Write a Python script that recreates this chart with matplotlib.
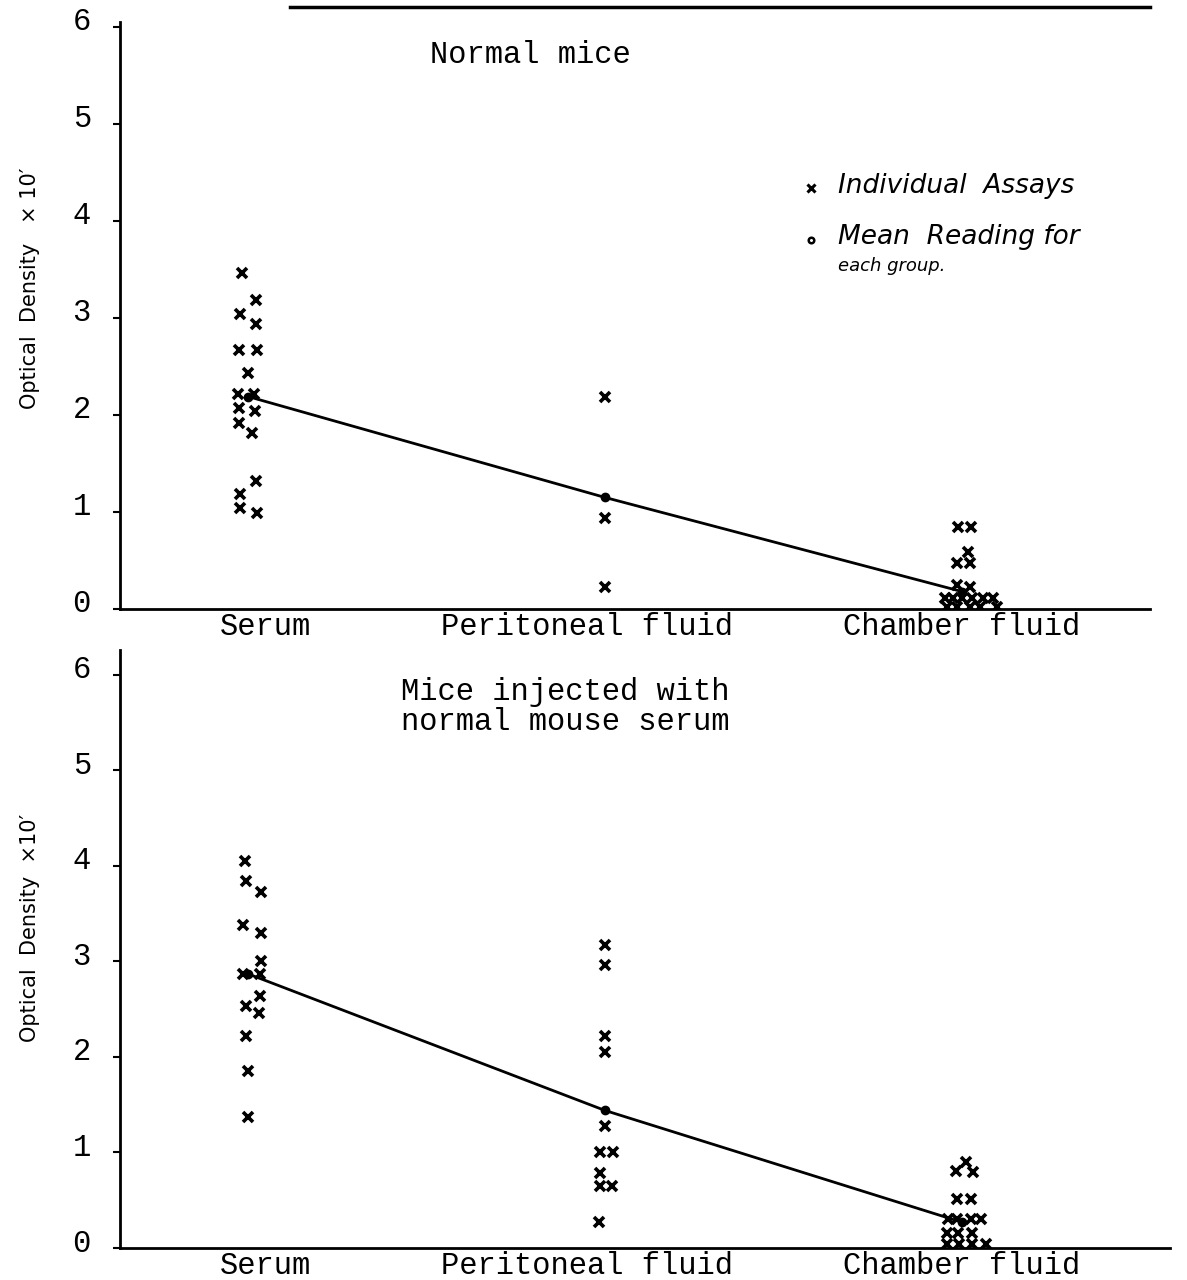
import numpy as np
import matplotlib.pyplot as plt
import matplotlib.transforms as mtransforms
from matplotlib.lines import Line2D

# categories on the x axis
categories = ["Serum", "Peritoneal fluid", "Chamber fluid"]

# --- Normal mice (optical density x10) ---
top_serum = [3.46, 3.18, 3.04, 2.94, 2.67, 2.67, 2.43, 2.22, 2.22, 2.07, 2.04,
             1.92, 1.81, 1.32, 1.19, 1.04, 0.99]
top_serum_dx = [-0.017, 0.022, -0.022, 0.022, -0.025, 0.025, 0.0, -0.028, 0.017,
                -0.025, 0.020, -0.025, 0.011, 0.022, -0.022, -0.022, 0.025]
top_perit = [2.18, 0.94, 0.23]
top_perit_dx = [0.0, 0.0, 0.0]
top_chamber = [0.85, 0.85, 0.59, 0.47, 0.47, 0.25, 0.23, 0.11, 0.11, 0.11, 0.11,
               0.11, 0.11, 0.02, 0.02, 0.02, 0.02, 0.02]
top_chamber_dx = [-0.011, 0.025, 0.017, -0.014, 0.022, -0.014, 0.022, -0.048, -0.025,
                  0.0, 0.028, 0.059, 0.087, -0.042, -0.014, 0.022, 0.050, 0.098]
top_means = [2.19, 1.15, 0.18]

# --- Mice injected with normal mouse serum ---
bot_serum = [4.05, 3.84, 3.73, 3.38, 3.30, 3.00, 2.87, 2.87, 2.64, 2.53, 2.46,
             2.22, 1.85, 1.37]
bot_serum_dx = [-0.008, -0.006, 0.036, -0.014, 0.036, 0.036, -0.014, 0.034, 0.034,
                -0.006, 0.031, -0.006, 0.0, 0.0]
bot_perit = [3.17, 2.96, 2.22, 2.05, 1.28, 1.00, 1.00, 0.78, 0.65, 0.65, 0.27]
bot_perit_dx = [0.0, 0.0, 0.0, 0.0, 0.0, -0.014, 0.022, -0.014, -0.014, 0.020, -0.017]
bot_chamber = [0.90, 0.81, 0.80, 0.51, 0.51, 0.30, 0.30, 0.30, 0.30, 0.16, 0.16,
               0.16, 0.04, 0.04, 0.04, 0.04]
bot_chamber_dx = [0.011, -0.017, 0.031, -0.014, 0.025, -0.039, -0.014, 0.025, 0.053,
                  -0.042, -0.011, 0.028, -0.042, -0.008, 0.028, 0.067]
bot_means = [2.87, 1.44, 0.27]

MONO = "Liberation Mono"
HAND = "DejaVu Sans"


def draw_panel(fig, ax, groups, means, title, title_xy, xmax, ymax):
    for i, (vals, dx) in enumerate(groups):
        xs = [i + 1 + d for d in dx]
        ax.plot(xs, vals, linestyle="none", marker="x", markersize=7,
                markeredgewidth=2.6, color="black")
    ax.plot([1, 2, 3], means, color="black", linewidth=2.0, marker="o",
            markersize=6, markerfacecolor="black", zorder=3)

    ax.set_xlim(0.6415, xmax)
    ax.set_ylim(0, ymax)
    # typed labels sit a little off the category centres
    ax.set_xticks([1.05, 1.95, 3.0])
    ax.set_xticklabels(categories, fontfamily=MONO, fontsize=22)
    ax.set_yticks(range(7))
    ax.set_yticklabels([str(v) for v in range(7)], fontfamily=MONO, fontsize=22)
    ax.tick_params(axis="x", length=0, pad=2)
    ax.tick_params(axis="y", length=5, width=1.5, direction="out", pad=16)
    # typed numbers sit slightly above the tick marks
    shift = mtransforms.ScaledTranslation(0, 8 / 100, fig.dpi_scale_trans)
    for lab in ax.get_yticklabels():
        lab.set_transform(lab.get_transform() + shift)
    for s in ["top", "right"]:
        ax.spines[s].set_visible(False)
    for s in ["left", "bottom"]:
        ax.spines[s].set_linewidth(2.0)
    ax.text(title_xy[0], title_xy[1], title, transform=ax.transAxes,
            ha="center", va="center", fontfamily=MONO, fontsize=22,
            linespacing=1.0)


fig = plt.figure(figsize=(11.87, 12.8), dpi=100)
fig.patch.set_facecolor("white")

ax1 = fig.add_axes([120 / 1187, 671 / 1280, 1030 / 1187, 587 / 1280])
draw_panel(fig, ax1,
           [(top_serum, top_serum_dx), (top_perit, top_perit_dx),
            (top_chamber, top_chamber_dx)],
           top_means, "Normal mice", (0.398, 0.944), 3.527, 6.05)

ax2 = fig.add_axes([120 / 1187, 32 / 1280, 1050 / 1187, 598 / 1280])
draw_panel(fig, ax2,
           [(bot_serum, bot_serum_dx), (bot_perit, bot_perit_dx),
            (bot_chamber, bot_chamber_dx)],
           bot_means, "Mice injected with\nnormal mouse serum", (0.424, 0.905),
           3.583, 6.26)

# legend drawn by hand in the upper panel
ax1.plot([0.671], [0.717], transform=ax1.transAxes, marker="x", markersize=6,
         markeredgewidth=2.2, color="black", linestyle="none")
ax1.plot([0.671], [0.629], transform=ax1.transAxes, marker="o", markersize=4,
         markerfacecolor="white", markeredgewidth=1.8, color="black",
         linestyle="none")
ax1.text(0.697, 0.720, "Individual  Assays", transform=ax1.transAxes,
         va="center", ha="left", fontfamily=HAND, style="italic", fontsize=19)
ax1.text(0.697, 0.634, "Mean  Reading for", transform=ax1.transAxes,
         va="center", ha="left", fontfamily=HAND, style="italic", fontsize=19)
ax1.text(0.697, 0.584, "each group.", transform=ax1.transAxes,
         va="center", ha="left", fontfamily=HAND, style="italic", fontsize=13)

# hand-written axis labels
fig.text(30 / 1187, 1 - 288 / 1280, "Optical  Density   \u00d7 10\u2032",
         rotation=90, ha="center", va="center", fontfamily=HAND,
         fontsize=15)
fig.text(30 / 1187, 1 - 928 / 1280, "Optical  Density  \u00d710\u2032",
         rotation=90, ha="center", va="center", fontfamily=HAND,
         fontsize=15)

# underline of the cropped heading at the top of the page
fig.add_artist(Line2D([290 / 1187, 1150 / 1187], [1 - 7 / 1280, 1 - 7 / 1280],
                      color="black", linewidth=2.5))

fig.savefig("out.png", dpi=100, facecolor="white")
